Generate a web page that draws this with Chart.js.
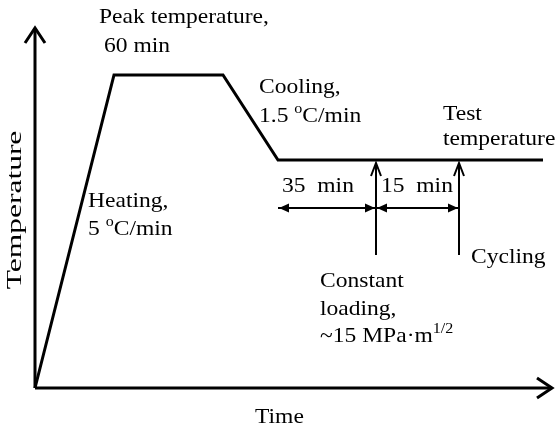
<!DOCTYPE html>
<html>
<head>
<meta charset="utf-8">
<script src="https://cdn.jsdelivr.net/npm/chart.js@4/dist/chart.umd.min.js"></script>
<style>
  html, body { margin: 0; padding: 0; background: #fff; }
  #box { width: 557px; height: 428px; }
</style>
</head>
<body>
<div id="box"><canvas id="grafico" width="557" height="428"></canvas></div>
<script>
// --- DADOS (unidades arbitrárias: tempo x temperatura, esquemático) ---
const profileTime = [0, 79, 188, 243, 508];
const profileTemp = [0, 313, 313, 228, 228];

const axisTimeEnd = 517;      // fim do eixo do tempo
const axisTempEnd = 360;      // fim do eixo da temperatura

const markerTimes = [341, 424];          // carga constante, ciclagem
const markerFrom = 133;                   // base das setas verticais
const markerTo = 225;                     // ponta (logo abaixo da linha)

const spanTimes = [243, 341, 424];        // cotas 35 min / 15 min
const spanLevel = 180;
const spanLabels = ['35  min', '15  min'];

const FONT = "'Liberation Serif', 'DejaVu Serif', serif";
const ESTICA = 1.07; // o texto original é levemente esticado na horizontal

// desenha texto com partes sobrescritas: [texto, sobrescrito?]
function textoRico(ctx, x, y, partes, tam) {
    ctx.save();
    ctx.translate(x, y);
    ctx.scale(ESTICA, 1);
    let cx = 0;
    partes.forEach(([t, sup]) => {
        const s = sup ? Math.round(tam * 0.66) : tam;
        ctx.font = s + 'px ' + FONT;
        ctx.fillText(t, cx, sup ? -tam * 0.4 : 0);
        cx += ctx.measureText(t).width;
    });
    ctx.restore();
}

function pontaSeta(ctx, x, y, ang, comp, meia, cheia) {
    const bx = x - comp * Math.cos(ang), by = y - comp * Math.sin(ang);
    const nx = -Math.sin(ang) * meia, ny = Math.cos(ang) * meia;
    ctx.beginPath();
    ctx.moveTo(bx + nx, by + ny);
    ctx.lineTo(x, y);
    ctx.lineTo(bx - nx, by - ny);
    if (cheia) { ctx.closePath(); ctx.fill(); } else { ctx.stroke(); }
}

const pluginAnotacoes = {
    id: 'anotacoes',
    afterDatasetsDraw(chart) {
        const { ctx, scales: { x, y } } = chart;
        ctx.save();
        ctx.strokeStyle = '#000';
        ctx.fillStyle = '#000';
        ctx.lineJoin = 'miter';

        // setas dos eixos
        ctx.lineWidth = 3;
        pontaSeta(ctx, x.getPixelForValue(0), y.getPixelForValue(axisTempEnd), -Math.PI / 2, 15, 10, false);
        pontaSeta(ctx, x.getPixelForValue(axisTimeEnd), y.getPixelForValue(0), 0, 15, 10, false);

        // setas verticais (carga / ciclagem)
        ctx.lineWidth = 2;
        markerTimes.forEach(t => {
            pontaSeta(ctx, x.getPixelForValue(t), y.getPixelForValue(markerTo), -Math.PI / 2, 13, 5, false);
        });

        // cotas com setas duplas
        const yy = y.getPixelForValue(spanLevel);
        for (let i = 0; i < spanTimes.length - 1; i++) {
            const a = x.getPixelForValue(spanTimes[i]), b = x.getPixelForValue(spanTimes[i + 1]);
            pontaSeta(ctx, a + 1, yy, Math.PI, 10, 4.5, true);
            pontaSeta(ctx, b - 1, yy, 0, 10, 4.5, true);
        }

        // textos
        const tam = 22;
        ctx.textBaseline = 'alphabetic';
        ctx.textAlign = 'left';
        textoRico(ctx, 99, 23, [['Peak temperature,']], tam);
        textoRico(ctx, 104, 52, [['60 min']], tam);
        textoRico(ctx, 88, 207, [['Heating,']], tam);
        textoRico(ctx, 88, 235, [['5 '], ['o', true], ['C/min']], tam);
        textoRico(ctx, 259, 93, [['Cooling,']], tam);
        textoRico(ctx, 259, 122, [['1.5 '], ['o', true], ['C/min']], tam);
        textoRico(ctx, 443, 120, [['Test']], tam);
        textoRico(ctx, 443, 145, [['temperature']], tam);
        textoRico(ctx, x.getPixelForValue(spanTimes[0]) + 4, 192, [[spanLabels[0]]], tam);
        textoRico(ctx, x.getPixelForValue(spanTimes[1]) + 5, 192, [[spanLabels[1]]], tam);
        textoRico(ctx, 471, 263, [['Cycling']], tam);
        textoRico(ctx, 320, 287, [['Constant']], tam);
        textoRico(ctx, 320, 315, [['loading,']], tam);
        textoRico(ctx, 320, 342, [['~15 MPa·m'], ['1/2', true]], tam);
        textoRico(ctx, 255, 423, [['Time']], tam);

        // rótulo vertical
        ctx.save();
        ctx.translate(21, 210);
        ctx.rotate(-Math.PI / 2);
        ctx.scale(1.5, 1);
        ctx.font = '21px ' + FONT;
        ctx.textAlign = 'center';
        ctx.fillText('Temperature', 0, 0);
        ctx.restore();

        ctx.restore();
    }
};

const linha = (pts, w) => ({
    data: pts,
    showLine: true,
    borderColor: '#000',
    borderWidth: w,
    pointRadius: 0,
    fill: false,
    tension: 0
});

const datasets = [
    linha(profileTime.map((t, i) => ({ x: t, y: profileTemp[i] })), 3),
    linha([{ x: 0, y: 0 }, { x: axisTimeEnd, y: 0 }], 3),
    linha([{ x: 0, y: 0 }, { x: 0, y: axisTempEnd }], 3),
    ...markerTimes.map(t => linha([{ x: t, y: markerFrom }, { x: t, y: markerTo }], 2)),
    linha([{ x: spanTimes[0], y: spanLevel }, { x: spanTimes[1], y: spanLevel }], 2),
    linha([{ x: spanTimes[1], y: spanLevel }, { x: spanTimes[2], y: spanLevel }], 2)
];

new Chart(document.getElementById('grafico').getContext('2d'), {
    type: 'scatter',
    data: { datasets },
    options: {
        responsive: false,
        animation: false,
        layout: { padding: 0 },
        plugins: { legend: { display: false }, tooltip: { enabled: false } },
        scales: {
            x: { type: 'linear', min: -35, max: 522, display: false },
            y: { type: 'linear', min: -40, max: 388, display: false }
        }
    },
    plugins: [pluginAnotacoes]
});
</script>
</body>
</html>
